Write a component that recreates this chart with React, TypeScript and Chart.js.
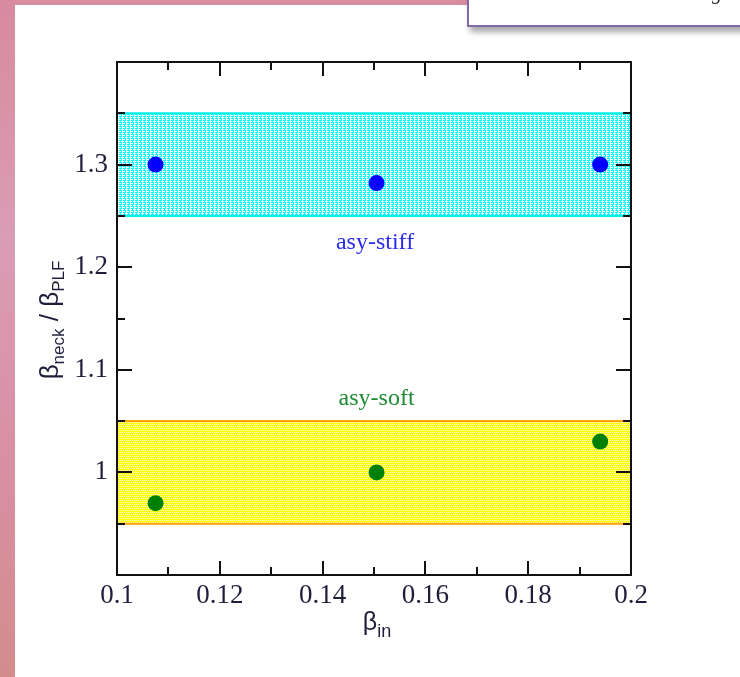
import React, { useEffect, useRef } from 'react';
import { Chart, registerables } from 'chart.js';

Chart.register(...registerables);

// ---- data ----
const xIn = [0.1075, 0.1505, 0.194];
const stiffRatio = [1.3, 1.282, 1.3];
const softRatio = [0.97, 1.0, 1.03];
const stiffBand = [1.25, 1.35];
const softBand = [0.95, 1.05];
const xRange = [0.1, 0.2];
const yRange = [0.9, 1.4];
const xStep = 0.01;
const yStep = 0.05;
const bandLabels = ['asy-stiff', 'asy-soft'];
const bandLabelX = [0.1502, 0.1505];
const bandLabelY = [1.224, 1.072];
const bandLabelColors = ['#2a2af0', '#1e8a32'];

const TICK_COLOR = '#1e1e3c';
const SERIF = '"Liberation Serif", "Times New Roman", serif';
const SANS = '"Liberation Sans", Arial, sans-serif';

function makePattern(kind: string): CanvasPattern | string {
  const c = document.createElement('canvas');
  c.width = 4;
  c.height = 4;
  const g = c.getContext('2d');
  if (!g) return kind === 'cyan' ? '#80f8f8' : '#ffff80';
  if (kind === 'cyan') {
    g.fillStyle = '#ffffff';
    g.fillRect(0, 0, 4, 4);
    g.fillStyle = '#00ffff';
    g.fillRect(0, 0, 2, 4);
    g.fillRect(3, 0, 1, 1);
    g.fillRect(3, 2, 1, 1);
    g.fillStyle = '#ffffff';
    g.fillRect(1, 1, 1, 1);
    g.fillRect(0, 3, 1, 1);
  } else {
    g.fillStyle = '#ffff00';
    g.fillRect(0, 0, 4, 4);
    g.fillStyle = '#ffffff';
    g.fillRect(0, 0, 1, 1);
    g.fillRect(2, 0, 1, 1);
    g.fillRect(1, 2, 1, 1);
    g.fillRect(3, 2, 1, 1);
  }
  const p = g.createPattern(c, 'repeat');
  return p || '#80f8f8';
}

const line = (y: number) => [
  { x: xRange[0], y },
  { x: xRange[1], y },
];

const framePlugin = {
  id: 'frameTicks',
  afterDatasetsDraw(chart: any) {
    const { ctx, chartArea: a, scales } = chart;
    const xs = scales.x;
    const ys = scales.y;
    ctx.save();
    // band labels
    ctx.font = `24px ${SERIF}`;
    ctx.textAlign = 'center';
    ctx.textBaseline = 'middle';
    bandLabels.forEach((t, i) => {
      ctx.fillStyle = bandLabelColors[i];
      ctx.fillText(t, xs.getPixelForValue(bandLabelX[i]), ys.getPixelForValue(bandLabelY[i]));
    });
    // frame
    ctx.strokeStyle = '#111';
    ctx.lineWidth = 2;
    ctx.strokeRect(a.left, a.top, a.right - a.left, a.bottom - a.top);
    ctx.lineWidth = 2;
    ctx.beginPath();
    xs.ticks.forEach((t: any) => {
      const r = Math.round(t.value * 100);
      if (t.value <= xRange[0] + 1e-9 || t.value >= xRange[1] - 1e-9) return;
      const len = r % 2 === 0 ? 14 : 8;
      const px = Math.round(xs.getPixelForValue(t.value));
      ctx.moveTo(px, a.bottom);
      ctx.lineTo(px, a.bottom - len);
      ctx.moveTo(px, a.top);
      ctx.lineTo(px, a.top + len);
    });
    ys.ticks.forEach((t: any) => {
      const r = Math.round(t.value * 100);
      if (t.value <= yRange[0] + 1e-9 || t.value >= yRange[1] - 1e-9) return;
      const len = r % 10 === 0 ? 15 : 8;
      const py = Math.round(ys.getPixelForValue(t.value));
      ctx.moveTo(a.left, py);
      ctx.lineTo(a.left + len, py);
      ctx.moveTo(a.right, py);
      ctx.lineTo(a.right - len, py);
    });
    ctx.stroke();

    // x title: beta_in
    ctx.fillStyle = TICK_COLOR;
    ctx.textAlign = 'left';
    ctx.textBaseline = 'alphabetic';
    const big = `25px ${SANS}`;
    const sub = `18px ${SANS}`;
    ctx.font = big;
    const wb = ctx.measureText('β').width;
    ctx.font = sub;
    const wi = ctx.measureText('in').width;
    const cx = (a.left + a.right) / 2 + 3;
    let x0 = cx - (wb + wi) / 2;
    ctx.font = big;
    ctx.fillText('β', x0, 630);
    ctx.font = sub;
    ctx.fillText('in', x0 + wb, 637);

    // y title: beta_neck / beta_PLF
    const ybig = `26px ${SANS}`;
    const ysub = `17px ${SANS}`;
    const parts: [string, string, number][] = [
      ['β', ybig, 0],
      ['neck', ysub, 6],
      [' / ', ybig, 0],
      ['β', ybig, 0],
      ['PLF', ysub, 6],
    ];
    let total = 0;
    const widths = parts.map(([t, f]) => {
      ctx.font = f;
      const w = ctx.measureText(t).width;
      total += w;
      return w;
    });
    ctx.translate(58, 320);
    ctx.rotate(-Math.PI / 2);
    let px = -total / 2;
    parts.forEach(([t, f, dy], i) => {
      ctx.font = f;
      ctx.fillText(t, px, dy);
      px += widths[i];
    });
    ctx.restore();
  },
};

export default function App() {
  const ref = useRef<HTMLCanvasElement | null>(null);

  useEffect(() => {
    const canvas = ref.current;
    if (!canvas) return;
    const cyan = makePattern('cyan');
    const yellow = makePattern('yellow');
    const chart = new Chart(canvas, {
      type: 'scatter',
      data: {
        datasets: [
          {
            label: 'asy-stiff',
            data: xIn.map((x, i) => ({ x, y: stiffRatio[i] })),
            backgroundColor: '#0000ff',
            borderWidth: 0,
            pointRadius: 8,
            order: 0,
          },
          {
            label: 'asy-soft',
            data: xIn.map((x, i) => ({ x, y: softRatio[i] })),
            backgroundColor: '#008000',
            borderWidth: 0,
            pointRadius: 8,
            order: 0,
          },
          {
            type: 'line',
            label: 'stiff band top',
            data: line(stiffBand[1]),
            borderColor: '#00f0f0',
            borderWidth: 2,
            pointRadius: 0,
            backgroundColor: cyan as any,
            fill: { value: stiffBand[0] },
            order: 2,
          },
          {
            type: 'line',
            label: 'stiff band bottom',
            data: line(stiffBand[0]),
            borderColor: '#00f0f0',
            borderWidth: 2,
            pointRadius: 0,
            fill: false,
            order: 1,
          },
          {
            type: 'line',
            label: 'soft band top',
            data: line(softBand[1]),
            borderColor: '#ffa000',
            borderWidth: 2,
            pointRadius: 0,
            backgroundColor: yellow as any,
            fill: { value: softBand[0] },
            order: 2,
          },
          {
            type: 'line',
            label: 'soft band bottom',
            data: line(softBand[0]),
            borderColor: '#ffa000',
            borderWidth: 2,
            pointRadius: 0,
            fill: false,
            order: 1,
          },
        ] as any,
      },
      options: {
        responsive: false,
        animation: false,
        layout: { padding: { left: 0, top: 62, right: 109, bottom: 0 } },
        plugins: { legend: { display: false }, tooltip: { enabled: false } },
        scales: {
          x: {
            type: 'linear',
            position: 'bottom',
            min: xRange[0],
            max: xRange[1],
            grid: { display: false, drawTicks: false },
            border: { display: false },
            ticks: {
              stepSize: xStep,
              autoSkip: false,
              maxRotation: 0,
              padding: 5,
              color: TICK_COLOR,
              font: { family: SERIF, size: 27 },
              callback: (v: any) => {
                const r = Math.round(Number(v) * 100);
                return r % 2 === 0 ? String(Number(Number(v).toFixed(2))) : '';
              },
            },
            afterFit: (s: any) => {
              s.height = 102;
            },
          },
          y: {
            type: 'linear',
            position: 'left',
            min: yRange[0],
            max: yRange[1],
            grid: { display: false, drawTicks: false },
            border: { display: false },
            ticks: {
              stepSize: yStep,
              autoSkip: false,
              padding: 9,
              color: TICK_COLOR,
              font: { family: SERIF, size: 27 },
              callback: (v: any) => {
                const r = Math.round(Number(v) * 100);
                if (r % 10 !== 0 || r <= 90 || r >= 140) return '';
                return String(Number(Number(v).toFixed(1)));
              },
            },
            afterFit: (s: any) => {
              s.width = 117;
            },
          },
        },
      } as any,
      plugins: [framePlugin],
    });
    return () => chart.destroy();
  }, []);

  return (
    <div
      style={{
        position: 'fixed',
        left: 0,
        top: 0,
        width: 740,
        height: 677,
        background: '#ffffff',
        overflow: 'hidden',
      }}
    >
      <canvas ref={ref} width={740} height={677} style={{ position: 'absolute', left: 0, top: 0, width: 740, height: 677 }} />
      <div
        style={{
          position: 'absolute',
          left: 0,
          top: 0,
          width: 470,
          height: 5,
          background: '#d98ba0',
        }}
      />
      <div
        style={{
          position: 'absolute',
          left: 0,
          top: 0,
          width: 15,
          height: 677,
          background: 'linear-gradient(to bottom, #d88a9f 0%, #d99db4 35%, #d990a6 65%, #d38c8c 100%)',
        }}
      />
      <div
        style={{
          position: 'absolute',
          left: 467,
          top: -4,
          width: 290,
          height: 27,
          background: '#ffffff',
          border: '2px solid #8468a6',
          boxShadow: '3px 5px 6px rgba(0,0,0,0.35)',
          overflow: 'hidden',
        }}
      >
        <span
          style={{
            position: 'absolute',
            left: 243,
            top: -17,
            fontFamily: SERIF,
            fontStyle: 'italic',
            fontSize: 20,
            color: '#333',
          }}
        >
          g
        </span>
      </div>
    </div>
  );
}
